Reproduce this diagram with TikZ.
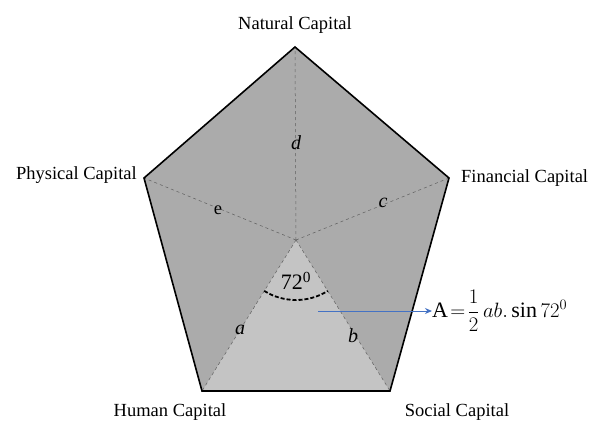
\documentclass[tikz,border=0pt]{standalone}
\usepackage{fontspec}
\setmainfont{Liberation Serif}
\usetikzlibrary{arrows.meta}
\definecolor{outerfill}{RGB}{171,171,171}
\definecolor{innerfill}{RGB}{196,196,196}
\definecolor{dashgray}{RGB}{95,95,95}
\definecolor{arrowblue}{RGB}{68,114,196}
\tikzset{
  vlabel/.style={font=\fontsize{18.5}{22}\selectfont, inner sep=1pt},
  slabel/.style={font=\fontsize{20}{22}\selectfont\itshape, inner sep=1pt},
  spoke/.style={dashgray, dashed, line width=0.5pt},
  rim/.style={black, line width=1.6pt, line join=miter},
}
\begin{document}
\begin{tikzpicture}[x=1pt,y=-1pt]
\useasboundingbox (0,0) rectangle (589,421);
\fill[white] (0,0) rectangle (589,421);
\coordinate (N) at (295,47);
\coordinate (P) at (144,178);
\coordinate (F) at (449,178);
\coordinate (H) at (202,391);
\coordinate (S) at (390,391);
\coordinate (O) at (296,240);
% fills
\fill[outerfill] (N) -- (F) -- (S) -- (H) -- (P) -- cycle;
\fill[innerfill] (O) -- (S) -- (H) -- cycle;
% spokes
\draw[spoke] (O) -- (N);
\draw[spoke] (O) -- (P);
\draw[spoke] (O) -- (F);
\draw[spoke] (O) -- (H);
\draw[spoke] (O) -- (S);
% rim
\draw[rim] (N) -- (F) -- (S) -- (H) -- (P) -- cycle;
% angle arc
\draw[black, dash pattern=on 4pt off 2pt, line width=1.8pt] ([shift={(122:60)}]O) arc[start angle=122, end angle=58, radius=60];
\node[font=\fontsize{22}{24}\selectfont] (ang) at (296,281) {72$^{\mathrm{0}}$};
% side labels
\node[slabel] (ld) at (296,143) {d};
\node[vlabel] (le) at (218,210) {e};
\node[slabel] (lc) at (383,203) {c};
\node[slabel] (la) at (240,330) {a};
\node[slabel] (lb) at (353,336) {b};
% vertex labels
\node[vlabel] (nN) at (295,25) {Natural Capital};
\node[vlabel, anchor=east] (nP) at (138,175) {Physical Capital};
\node[vlabel, anchor=west] (nF) at (460,178) {Financial Capital};
\node[vlabel] (nH) at (170,412) {Human Capital};
\node[vlabel] (nS) at (457,412) {Social Capital};
% formula
\coordinate (arrStart) at (318,311);
\node[anchor=west, inner sep=0pt, font=\fontsize{22}{26}\selectfont] (form) at (432,311) {$\displaystyle\mathrm{A}\mkern2mu{=}\mkern2mu\frac{1}{2}\,ab.\sin 72^{0}$};
\draw[arrowblue, line width=1pt, -{Stealth[length=7pt,width=6pt]}] (arrStart) -- (form.west);
\end{tikzpicture}
\end{document}
